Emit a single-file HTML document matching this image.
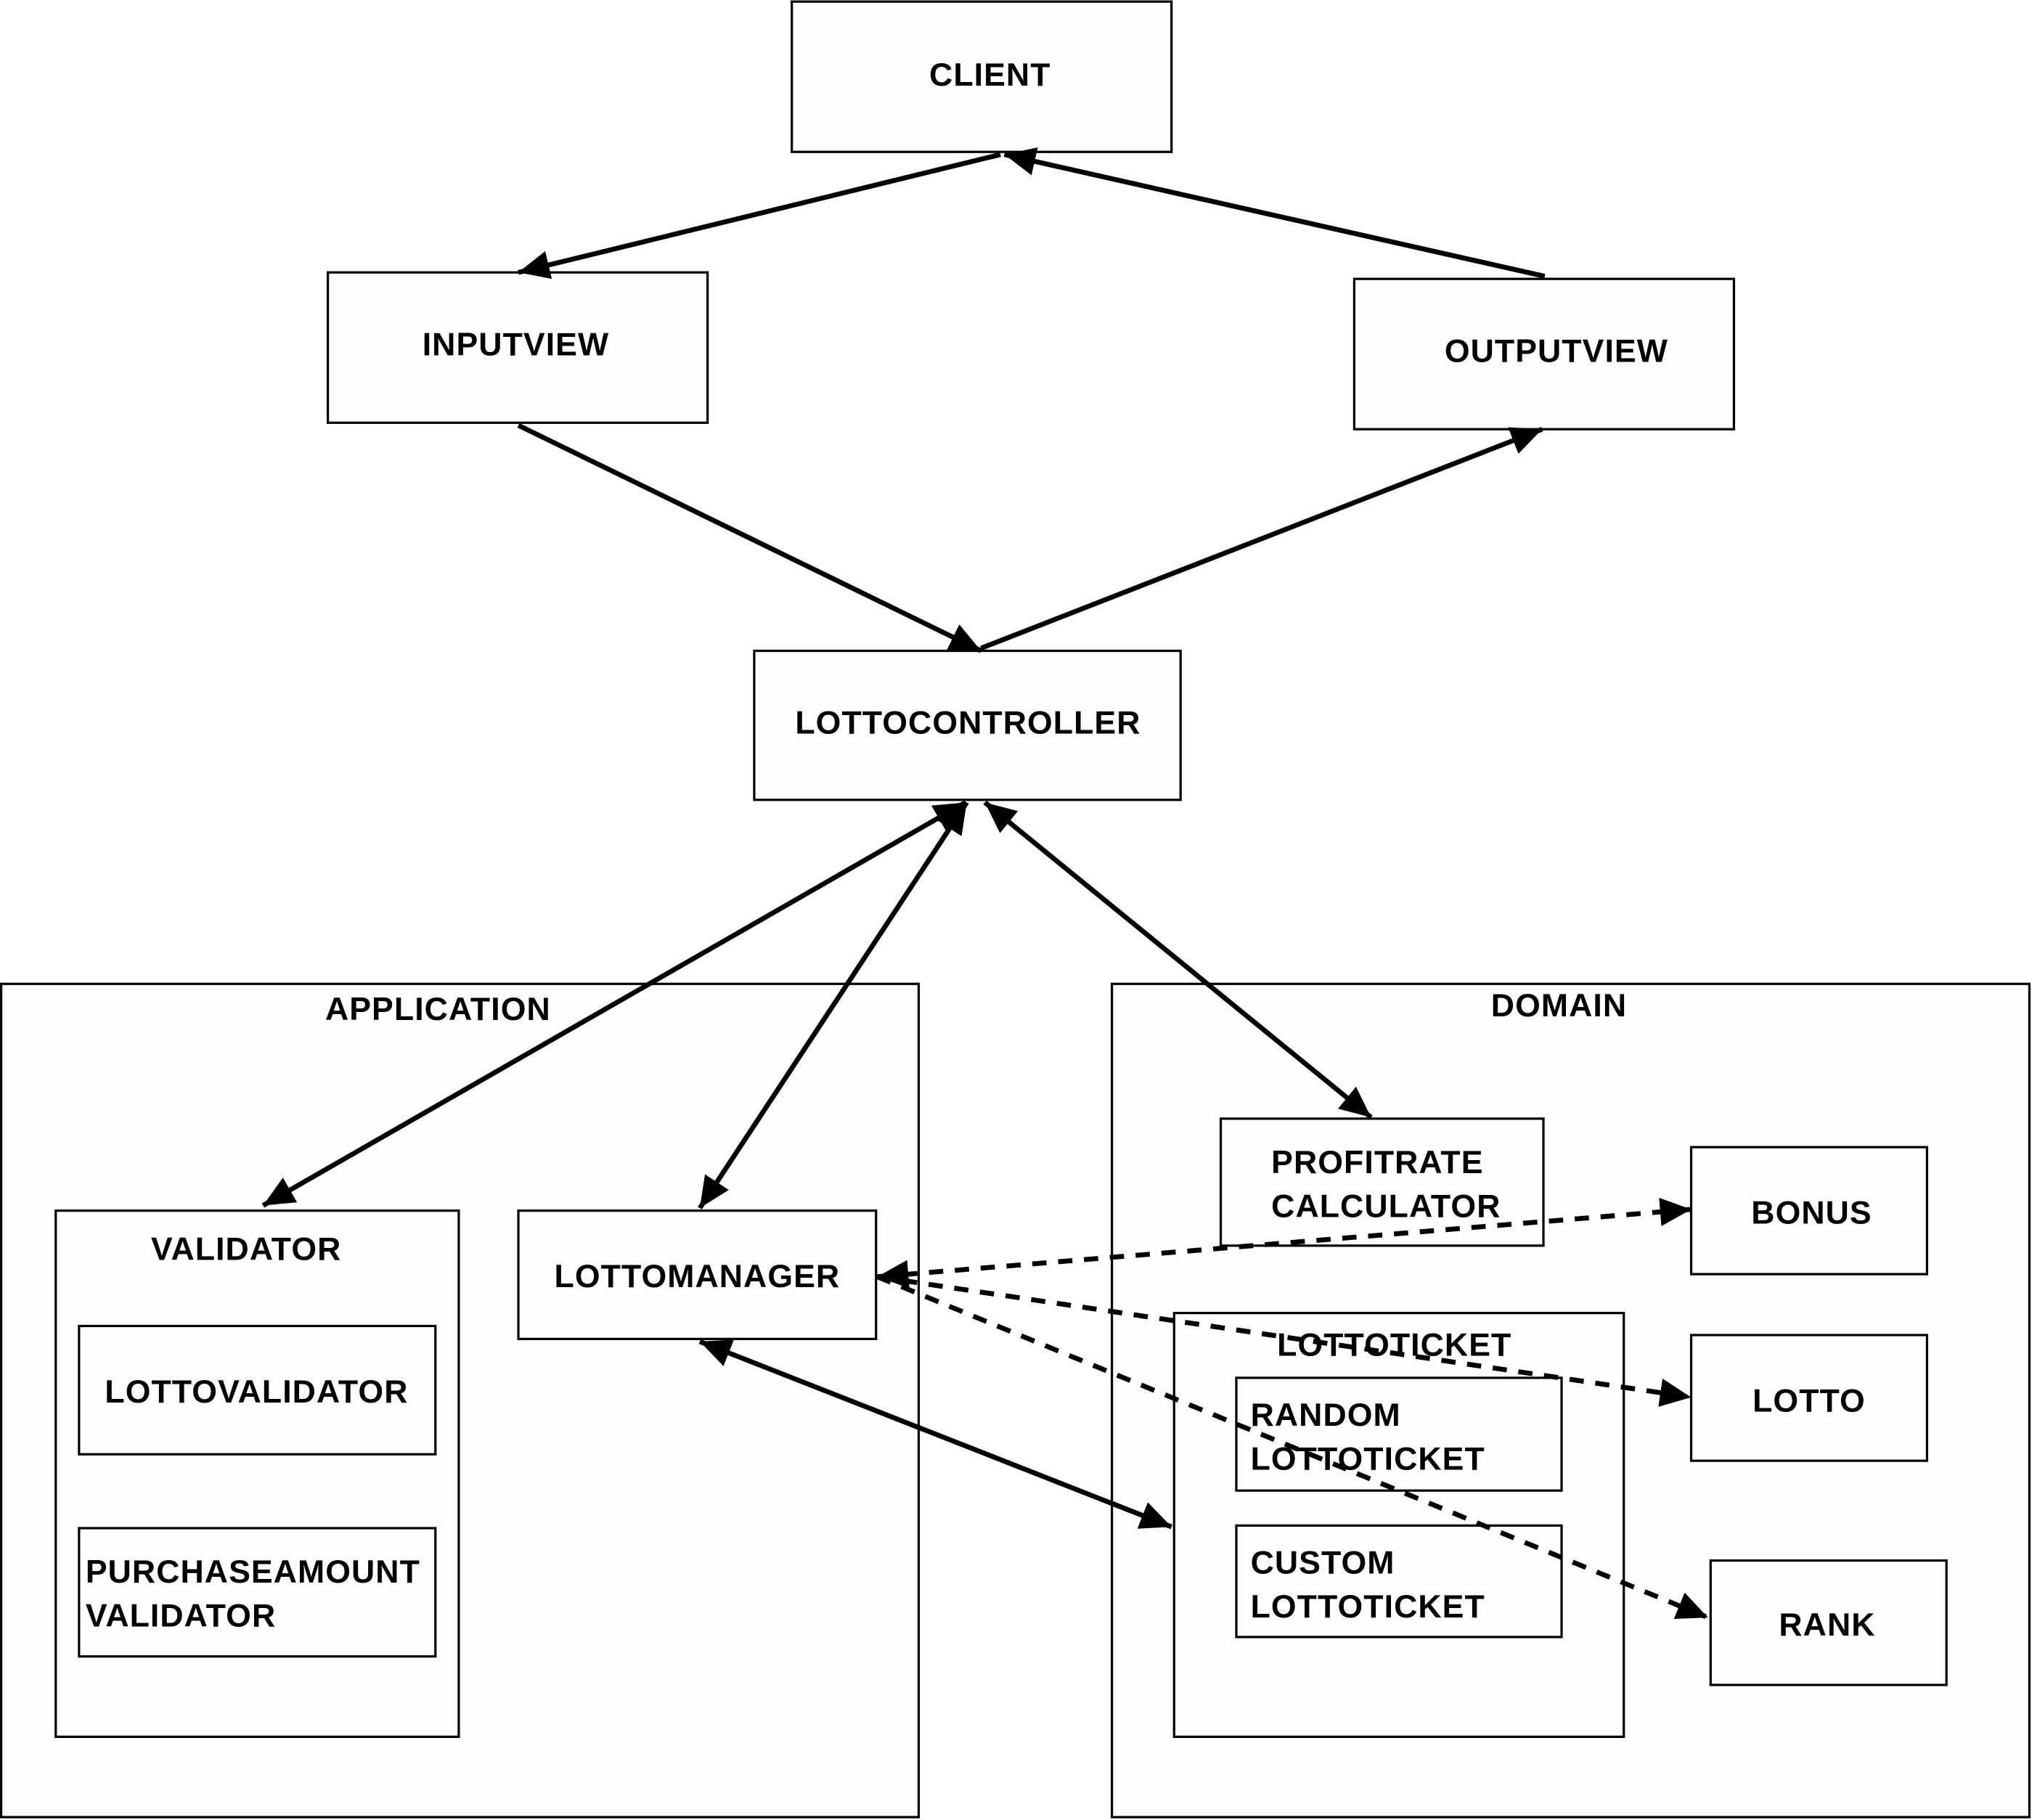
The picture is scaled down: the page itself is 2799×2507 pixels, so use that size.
<!DOCTYPE html>
<html><head><meta charset="utf-8"><style>
html,body{margin:0;padding:0;background:#fff;}
svg{display:block;}
text{font-family:"Liberation Sans",Arial,sans-serif;font-weight:bold;font-size:25px;letter-spacing:0.6px;fill:#000;}
</style></head><body>
<svg width="2799" height="2507" viewBox="0 0 1568 1404" xmlns="http://www.w3.org/2000/svg">
<defs>
<marker id="a" markerUnits="userSpaceOnUse" markerWidth="30" markerHeight="26" refX="24" refY="11" orient="auto-start-reverse" viewBox="0 0 30 26">
<path d="M0,0 L24,11 L0,22 Z" fill="#000"/></marker>
</defs>
<rect x="0" y="0" width="1568" height="1404" fill="#fff"/>
<g fill="#fffdfd" stroke="#000" stroke-width="1.8">
<rect x="611" y="1" width="293" height="116"/>
<rect x="253" y="210" width="293" height="116"/>
<rect x="1045" y="215" width="293" height="116"/>
<rect x="582" y="502" width="329" height="115"/>
<rect x="0.9" y="759" width="708" height="643"/>
<rect x="858" y="759" width="708" height="643"/>
<rect x="43" y="934" width="311" height="406"/>
<rect x="61" y="1023" width="275" height="99"/>
<rect x="61" y="1179" width="275" height="99"/>
<rect x="400" y="934" width="276" height="99"/>
<rect x="942" y="863" width="249" height="98"/>
<rect x="1305" y="885" width="182" height="98"/>
<rect x="906" y="1013" width="347" height="327"/>
<rect x="954" y="1063" width="251" height="87"/>
<rect x="954" y="1177" width="251" height="86"/>
<rect x="1305" y="1030" width="182" height="97"/>
<rect x="1320" y="1204" width="182" height="96"/>
</g>
<g text-anchor="middle">
<text x="764" y="66">CLIENT</text>
<text x="398" y="274">INPUTVIEW</text>
<text x="1201" y="279">OUTPUTVIEW</text>
<text x="747" y="566">LOTTOCONTROLLER</text>
<text x="338" y="787">APPLICATION</text>
<text x="1203" y="784">DOMAIN</text>
<text x="190" y="972">VALIDATOR</text>
<text x="198" y="1082">LOTTOVALIDATOR</text>
<text x="538" y="993">LOTTOMANAGER</text>
<text x="1398" y="944">BONUS</text>
<text x="1076" y="1046">LOTTOTICKET</text>
<text x="1396" y="1089">LOTTO</text>
<text x="1410" y="1262">RANK</text>
</g>
<text x="66" y="1221">PURCHASEAMOUNT</text>
<text x="66" y="1255">VALIDATOR</text>
<text x="981" y="905">PROFITRATE</text>
<text x="981" y="939">CALCULATOR</text>
<text x="965" y="1100">RANDOM</text>
<text x="965" y="1134">LOTTOTICKET</text>
<text x="965" y="1214">CUSTOM</text>
<text x="965" y="1248">LOTTOTICKET</text>
<g stroke="#000" stroke-width="3.8" fill="none">
<line x1="772" y1="119" x2="400" y2="210" marker-end="url(#a)"/>
<line x1="1192" y1="213" x2="775" y2="119" marker-end="url(#a)"/>
<line x1="400" y1="328" x2="757" y2="502" marker-end="url(#a)"/>
<line x1="757" y1="500" x2="1190" y2="331" marker-end="url(#a)"/>
<line x1="745" y1="619" x2="203" y2="930" marker-start="url(#a)" marker-end="url(#a)"/>
<line x1="746" y1="619" x2="540" y2="932" marker-start="url(#a)" marker-end="url(#a)"/>
<line x1="760" y1="619" x2="1058" y2="862" marker-start="url(#a)" marker-end="url(#a)"/>
<line x1="540" y1="1035" x2="904" y2="1178" marker-start="url(#a)" marker-end="url(#a)"/>
<g stroke-dasharray="11,9">
<line x1="677" y1="985" x2="1305" y2="933" marker-start="url(#a)" marker-end="url(#a)"/>
<line x1="677" y1="985" x2="1305" y2="1078" marker-end="url(#a)"/>
<line x1="677" y1="985" x2="1318" y2="1248" marker-end="url(#a)"/>
</g>
</g>
</svg>
</body></html>
